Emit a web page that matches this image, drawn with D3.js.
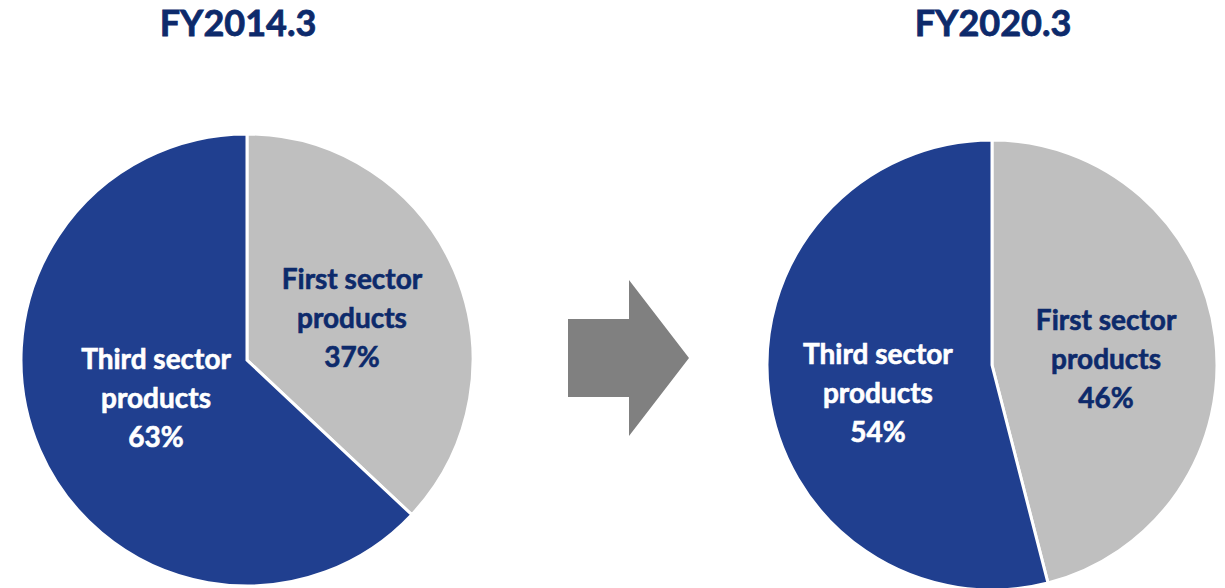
<!DOCTYPE html>
<html>
<head>
<meta charset="utf-8">
<script src="https://cdn.jsdelivr.net/npm/d3@7"></script>
<style>
  html, body { margin: 0; padding: 0; background: #ffffff; }
  svg { display: block; }
</style>
</head>
<body>
<svg id="chart" width="1225" height="588"></svg>
<script>
// Product mix by sector, two fiscal years
const years = ["FY2014.3", "FY2020.3"];
const sectors = ["First sector products", "Third sector products"];
const share2014 = [37, 63];
const share2020 = [46, 54];

const colors = { "First sector products": "#BFBFBF", "Third sector products": "#203F8F" };
const labelColors = { "First sector products": "#0D2A6B", "Third sector products": "#FFFFFF" };
const navy = "#0D2A6B";
const font = "Lato, Carlito, Calibri, 'Open Sans', sans-serif";

// Layout for each pie: centre, radius, title position and label nudges
const layout = [
  { cx: 247, cy: 360, r: 226, titleX: 238, labelR: 110,
    nudge: { "First sector products": [4, 2], "Third sector products": [10, -6] } },
  { cx: 992, cy: 365, r: 225, titleX: 993, labelR: 115,
    nudge: { "First sector products": [0, 8], "Third sector products": [0, 14] } }
];

const svg = d3.select("#chart");

const pie = d3.pie().sort(null).value(d => d.value);

const series = [share2014, share2020];

series.forEach((vals, i) => {
  const L = layout[i];
  const data = sectors.map((s, j) => ({ sector: s, value: vals[j] }));
  const arcs = pie(data);
  const arc = d3.arc().innerRadius(0).outerRadius(L.r);
  const labelArc = d3.arc().innerRadius(L.labelR).outerRadius(L.labelR);

  svg.append("text")
    .attr("x", L.titleX)
    .attr("y", 36)
    .attr("text-anchor", "middle")
    .attr("font-family", font)
    .attr("font-weight", 700)
    .attr("font-size", 36)
    .attr("fill", navy)
    .attr("stroke", navy)
    .attr("stroke-width", 0.8)
    .text(years[i]);

  const g = svg.append("g").attr("transform", `translate(${L.cx},${L.cy})`);

  g.selectAll("path")
    .data(arcs)
    .join("path")
    .attr("d", arc)
    .attr("fill", d => colors[d.data.sector])
    .attr("stroke", "#ffffff")
    .attr("stroke-width", 3)
    .attr("stroke-linejoin", "miter");

  const labels = g.selectAll("text.lbl")
    .data(arcs)
    .join("text")
    .attr("class", "lbl")
    .attr("text-anchor", "middle")
    .attr("font-family", font)
    .attr("font-weight", 700)
    .attr("font-size", 28)
    .attr("fill", d => labelColors[d.data.sector])
    .attr("stroke", d => labelColors[d.data.sector])
    .attr("stroke-width", 0.6)
    .attr("transform", d => {
      const [x, y] = labelArc.centroid(d);
      const [nx, ny] = L.nudge[d.data.sector];
      return `translate(${x + nx},${y + ny})`;
    });

  labels.each(function(d) {
    const words = d.data.sector.split(" ");
    const lines = [words.slice(0, 2).join(" "), words.slice(2).join(" "), d.data.value + "%"];
    const t = d3.select(this);
    lines.forEach((line, k) => {
      t.append("tspan")
        .attr("x", 0)
        .attr("y", (k - 1) * 39 + 10)
        .text(line);
    });
  });
});

// Transition arrow between the two years
const arrowPts = [[568, 319], [629, 319], [629, 280], [689, 358], [629, 436], [629, 397], [568, 397]];
svg.append("path")
  .attr("d", d3.line()(arrowPts) + "Z")
  .attr("fill", "#808080");
</script>
</body>
</html>
